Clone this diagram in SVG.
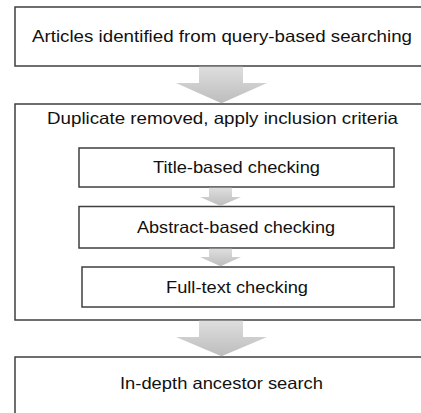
<svg xmlns="http://www.w3.org/2000/svg" width="421" height="413" viewBox="0 0 421 413">
<defs>
<linearGradient id="ag" x1="0" y1="0" x2="0" y2="1">
<stop offset="0" stop-color="#dedede"/>
<stop offset="1" stop-color="#bdbdbd"/>
</linearGradient>
<style>
.box{fill:#ffffff;stroke:#3f3f3f;stroke-width:1.5}
.lbl{font-family:"Liberation Sans",Arial,sans-serif;font-size:16.5px;fill:#111111;text-anchor:middle}
.arr{fill:url(#ag);stroke:none}
</style>
</defs>
<rect width="421" height="413" fill="#ffffff"/>
<g id="n1">
<rect class="box" x="15" y="7" width="420" height="59"/>
<text class="lbl" x="222" y="42" textLength="380" lengthAdjust="spacingAndGlyphs">Articles identified from query-based searching</text>
</g>
<g id="n2">
<rect class="box" x="15" y="104" width="420" height="216"/>
<text class="lbl" x="222.5" y="124" textLength="351" lengthAdjust="spacingAndGlyphs">Duplicate removed, apply inclusion criteria</text>
</g>
<g id="n3">
<rect class="box" x="79" y="148" width="315" height="39"/>
<text class="lbl" x="236.5" y="173" textLength="167" lengthAdjust="spacingAndGlyphs">Title-based checking</text>
</g>
<g id="n4">
<rect class="box" x="79" y="206.5" width="315" height="41.5"/>
<text class="lbl" x="236" y="233" textLength="198" lengthAdjust="spacingAndGlyphs">Abstract-based checking</text>
</g>
<g id="n5">
<rect class="box" x="82" y="267" width="312" height="40"/>
<text class="lbl" x="237" y="293" textLength="142" lengthAdjust="spacingAndGlyphs">Full-text checking</text>
</g>
<g id="n6">
<rect class="box" x="15" y="357" width="420" height="70"/>
<text class="lbl" x="221.5" y="389" textLength="203" lengthAdjust="spacingAndGlyphs">In-depth ancestor search</text>
</g>
<g id="connectors">
<path class="arr" d="M199 66.8 H243 V83 H267 L221.5 103.2 L176 83 H199 Z"/>
<path class="arr" d="M209 187.8 H232 V197 H241 L220.5 206 L200 197 H209 Z"/>
<path class="arr" d="M209 248.8 H232 V257 H241 L220.5 266.3 L200 257 H209 Z"/>
<path class="arr" d="M199 320.8 H243 V337 H267 L221.5 356.3 L176 337 H199 Z"/>
</g>
</svg>
